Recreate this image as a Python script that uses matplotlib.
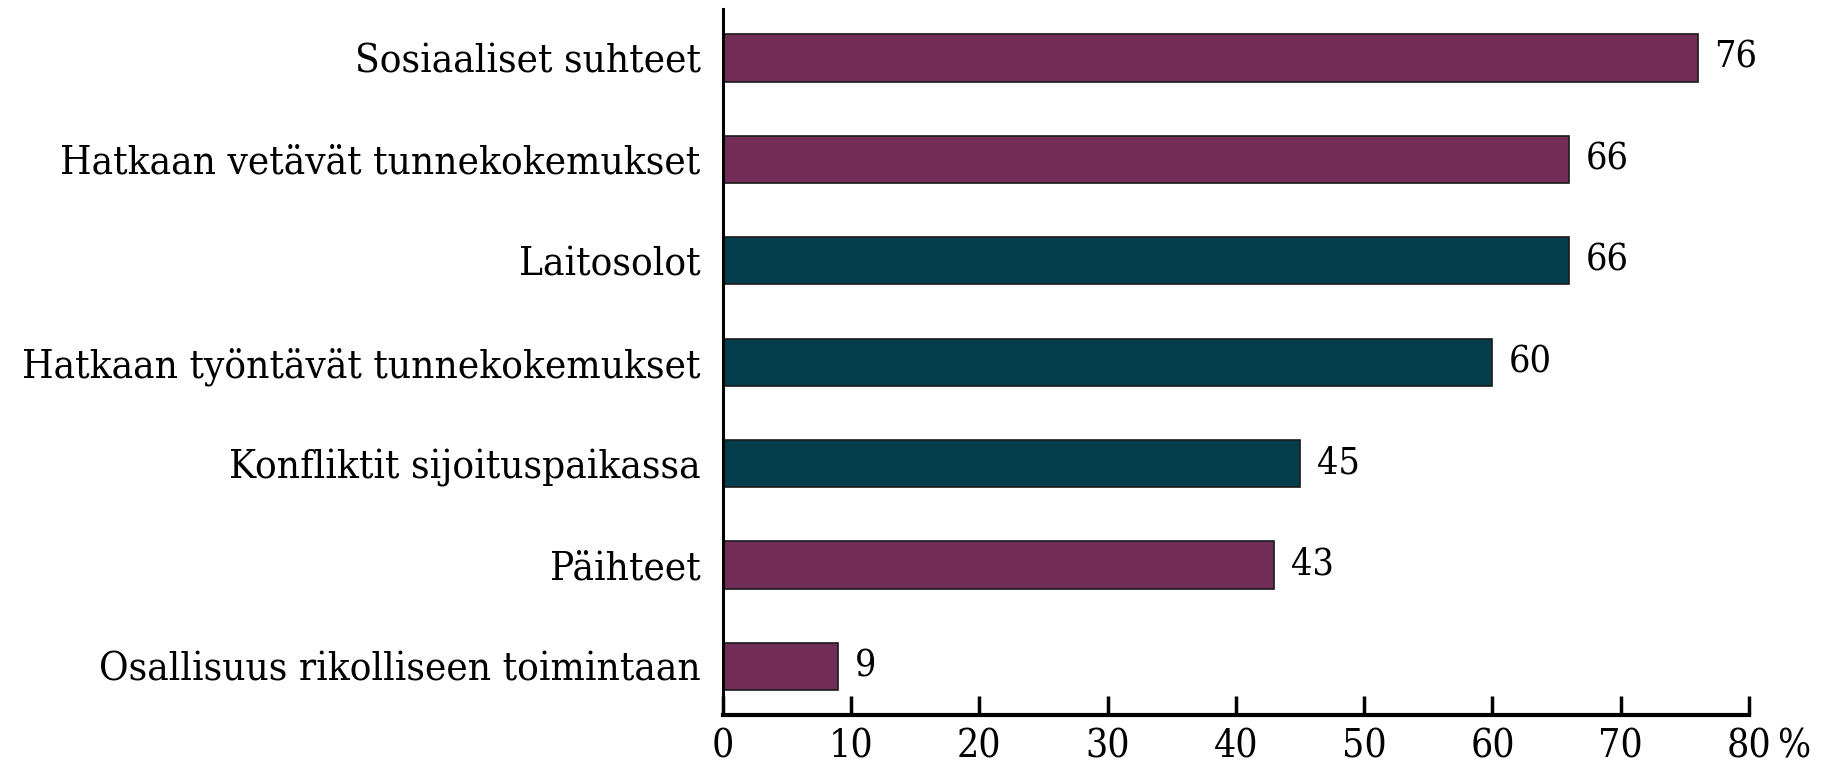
import matplotlib.pyplot as plt

categories = ["Sosiaaliset suhteet", "Hatkaan vetävät tunnekokemukset", "Laitosolot",
              "Hatkaan työntävät tunnekokemukset", "Konfliktit sijoituspaikassa",
              "Päihteet", "Osallisuus rikolliseen toimintaan"]
values = [76, 66, 66, 60, 45, 43, 9]
groups = ["veto", "veto", "tyonto", "tyonto", "tyonto", "veto", "veto"]
xticks = [0, 10, 20, 30, 40, 50, 60, 70, 80]

colors = {"veto": "#732e58", "tyonto": "#033c4a"}

plt.rcParams['font.family'] = ['DejaVu Serif']
plt.rcParams['font.stretch'] = 'condensed'

fig = plt.figure(figsize=(18.44, 7.71), dpi=100)
ax = fig.add_axes([0.392, 0.0726, 0.5565, 0.9154])

ypos = list(range(len(categories)))[::-1]
ax.barh(ypos, values, height=0.465, color=[colors[g] for g in groups],
        edgecolor='#1a1a1a', linewidth=1.2)

for y, v in zip(ypos, values):
    ax.annotate(str(v), (v, y), xytext=(12, 0), textcoords='offset points',
                va='center', ha='left', fontsize=27)

ax.set_xlim(0, 80)
ax.set_ylim(-0.48, 6.48)
ax.set_yticks(ypos)
ax.set_yticklabels(categories, fontsize=29)
ax.set_xticks(xticks)
ax.set_xticklabels([str(t) for t in xticks], fontsize=28)
ax.annotate("%", (80, 0), xycoords=('data', 'axes fraction'),
            xytext=(20, -10), textcoords='offset points',
            fontsize=28, ha='left', va='top')

ax.tick_params(axis='y', length=0, pad=16)
ax.tick_params(axis='x', direction='in', length=14, width=2.5, pad=10)
for s in ['top', 'right']:
    ax.spines[s].set_visible(False)
ax.spines['left'].set_linewidth(2.2)
ax.spines['bottom'].set_linewidth(3)

fig.savefig("out.png", dpi=100)
